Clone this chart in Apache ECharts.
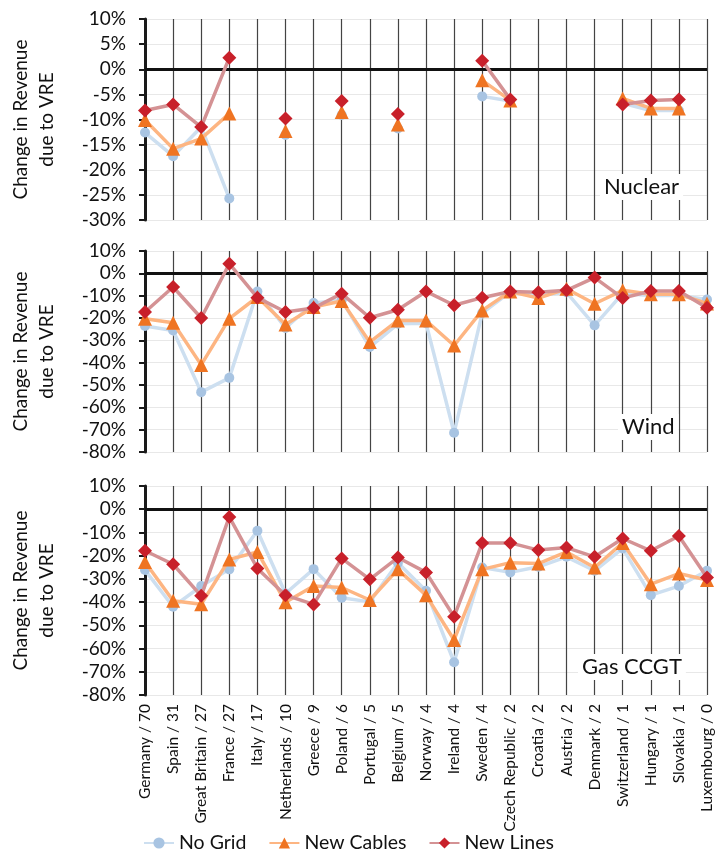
<!DOCTYPE html>
<html><head><meta charset="utf-8">
<script src="https://cdn.jsdelivr.net/npm/echarts@6/dist/echarts.min.js"></script>
<style>html,body{margin:0;padding:0;background:#fff}#c{width:717px;height:859px}</style>
</head><body><div id="c"></div>
<script>
const categories = ["Germany / 70","Spain / 31","Great Britain / 27","France / 27","Italy / 17","Netherlands / 10","Greece / 9","Poland / 6","Portugal / 5","Belgium / 5","Norway / 4","Ireland / 4","Sweden / 4","Czech Republic / 2","Croatia / 2","Austria / 2","Denmark / 2","Switzerland / 1","Hungary / 1","Slovakia / 1","Luxembourg / 0"];
const seriesNames = ["No Grid","New Cables","New Lines"];
const panelTitles = ["Nuclear","Wind","Gas CCGT"];

const nuclearNoGrid    = [-12.6,-17.3,-11.5,-25.7,null,-13.1,null,-9.1,null,-11.8,null,null,-5.4,-6.3,null,null,null,-6.8,-8.2,-8.2,null];
const nuclearNewCables = [-10.1,-15.8,-13.8,-8.8,null,-12.3,null,-8.5,null,-11.0,null,null,-2.2,-6.2,null,null,null,-5.8,-7.8,-7.8,null];
const nuclearNewLines  = [-8.2,-7.0,-11.5,2.3,null,-9.8,null,-6.3,null,-8.9,null,null,1.7,-6.0,null,null,null,-7.0,-6.2,-6.0,null];

const windNoGrid    = [-23.6,-25.6,-53.2,-46.8,-8.1,-24.5,-13.3,-12.0,-33.0,-22.6,-22.3,-71.4,-17.8,-8.3,-9.9,-8.5,-23.3,-9.0,-9.9,-9.9,-11.7];
const windNewCables = [-20.3,-22.1,-41.0,-20.3,-10.6,-22.9,-15.1,-12.4,-30.8,-21.1,-21.1,-32.3,-16.6,-8.1,-11.1,-6.9,-13.6,-7.6,-9.4,-9.4,-13.5];
const windNewLines  = [-17.3,-6.1,-20.0,4.3,-10.9,-17.3,-15.5,-9.1,-19.9,-16.3,-8.1,-14.3,-10.9,-8.1,-8.5,-7.6,-1.9,-11.1,-7.9,-7.9,-15.4];

const gasNoGrid    = [-26.2,-42.0,-33.1,-25.9,-9.3,-36.3,-25.8,-38.1,-39.9,-23.1,-35.1,-65.9,-25.1,-27.2,-24.8,-20.5,-26.5,-16.9,-37.0,-33.1,-26.5];
const gasNewCables = [-22.7,-39.4,-40.9,-21.6,-18.4,-40.1,-33.1,-33.7,-39.1,-25.9,-37.0,-56.3,-25.9,-23.0,-23.4,-18.4,-25.1,-14.5,-32.3,-27.7,-30.5];
const gasNewLines  = [-17.9,-23.7,-37.3,-3.3,-25.5,-37.0,-41.0,-21.2,-30.2,-20.8,-27.2,-46.3,-14.5,-14.5,-17.6,-16.5,-20.5,-12.6,-17.9,-11.5,-29.4];

const panels = [
  {data:[nuclearNoGrid,nuclearNewCables,nuclearNewLines], min:-30, max:10, interval:5, top:19, height:201},
  {data:[windNoGrid,windNewCables,windNewLines], min:-80, max:10, interval:10, top:251, height:201},
  {data:[gasNoGrid,gasNewCables,gasNewLines], min:-80, max:10, interval:10, top:486, height:209}
];

const FONT = 'Lato';
const styles = [
  {symbol:'circle', symbolSize:10, mark:'#a8c4e2', line:'#cddff0'},
  {symbol:'triangle', symbolSize:14, mark:'#ef7422', line:'#fdb582'},
  {symbol:'diamond', symbolSize:14, mark:'#c8202a', line:'#d49294'}
];

const grids=[], xAxes=[], yAxes=[], series=[];
panels.forEach((p,i)=>{
  grids.push({left:129, right:10, top:p.top, height:p.height});
  xAxes.push({type:'category', gridIndex:i, data:categories, boundaryGap:false,
    axisLine:{show:false}, axisTick:{show:false},
    axisLabel:{show:i===2, rotate:90, fontFamily:FONT, fontSize:15.5, color:'#111', margin:9, interval:0},
    splitLine:{show:true, lineStyle:{color:'#444', width:1.2}}});
  yAxes.push({type:'value', gridIndex:i, min:p.min, max:p.max, interval:p.interval,
    name:'Change in Revenue\ndue to VRE', nameLocation:'middle', nameGap:85, nameRotate:90,
    nameTextStyle:{fontFamily:FONT, fontSize:19, color:'#111', lineHeight:26},
    axisLine:{show:true, lineStyle:{color:'#1a1a1a', width:3}},
    axisTick:{show:true, length:6, lineStyle:{color:'#1a1a1a', width:2}},
    axisLabel:{formatter:'{value}%', fontFamily:FONT, fontSize:19, color:'#111', margin:19},
    splitLine:{show:true, lineStyle:{color:'#e8e8e8', width:1}}});
  p.data.forEach((d,k)=>{
    const st = styles[k];
    const s = {name:seriesNames[k], type:'line', xAxisIndex:i, yAxisIndex:i, data:d,
      connectNulls:false, symbol:st.symbol, symbolSize:st.symbolSize,
      itemStyle:{color:st.mark}, lineStyle:{color:st.line, width:3.5}, z:3+k, animation:false};
    if(k===0){
      s.markLine = {silent:true, symbol:'none', label:{show:false},
        lineStyle:{color:'#111', width:3, type:'solid'}, data:[{yAxis:0}], z:2};
    }
    series.push(s);
  });
});

const titlePos = [[600,174],[618,414],[578,654]];
const graphics = panelTitles.map((t,i)=>({type:'text', left:titlePos[i][0], top:titlePos[i][1], z:100,
  style:{text:t, font:'22px '+FONT, fill:'#111', backgroundColor:'#fff', padding:[2,4]}}));

const chart = echarts.init(document.getElementById('c'));
chart.setOption({
  animation:false,
  backgroundColor:'#fff',
  grid:grids, xAxis:xAxes, yAxis:yAxes, series:series, graphic:graphics,
  legend:{data:seriesNames, left:138, bottom:1, itemWidth:30, itemHeight:14, itemGap:22,
    textStyle:{fontFamily:FONT, fontSize:19.5, color:'#111'}}
});
</script></body></html>
